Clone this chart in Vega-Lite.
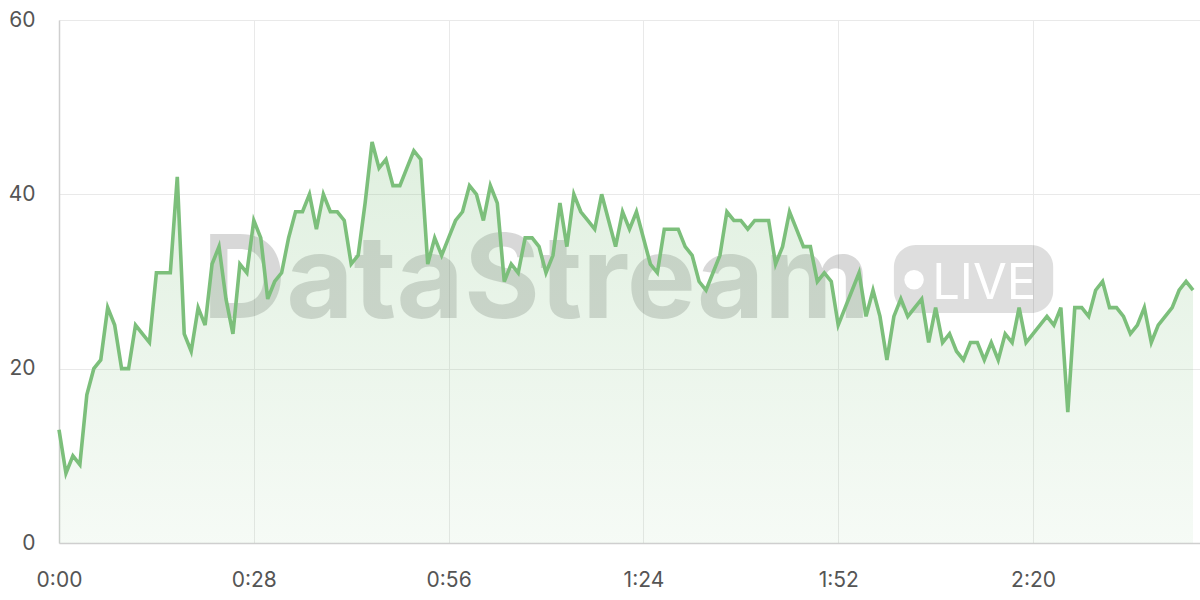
{
  "$schema": "https://vega.github.io/schema/vega-lite/v6.json",
  "width": 1141,
  "height": 523,
  "autosize": {"type": "none"},
  "padding": {"left": 59, "top": 20, "right": 0, "bottom": 57},
  "background": "#ffffff",
  "config": {
    "view": {"stroke": null},
    "font": "Inter",
    "axis": {
      "labelFont": "Inter",
      "labelFontSize": 21,
      "labelColor": "#555555",
      "labelFlush": false,
      "labelOverlap": false,
      "gridColor": "#e9e9e9",
      "gridWidth": 1,
      "domainColor": "#cfcfcf",
      "domainWidth": 1.5,
      "ticks": false,
      "title": null
    }
  },
  "layer": [
    {
      "data": {"values": [{"label": "DataStream"}]},
      "mark": {"type": "text", "font": "Inter", "fontSize": 116, "fontWeight": "bold", "align": "center", "baseline": "alphabetic", "color": "#000000", "opacity": 0.15},
      "encoding": {
        "x": {"datum": 68.6, "type": "quantitative"},
        "y": {"datum": 25.8, "type": "quantitative"},
        "text": {"field": "label"}
      }
    },
    {
      "data": {"values": [{"label": "LIVE"}]},
      "mark": {"type": "rect", "cornerRadius": 22, "color": "#000000", "opacity": 0.13},
      "encoding": {
        "x": {"datum": 120, "type": "quantitative"},
        "x2": {"datum": 142.9},
        "y": {"datum": 34.2, "type": "quantitative"},
        "y2": {"datum": 26.4}
      }
    },
    {
      "data": {"values": [{"label": "LIVE"}]},
      "mark": {"type": "point", "filled": true, "color": "#ffffff", "opacity": 1, "size": 380},
      "encoding": {
        "x": {"datum": 122.9, "type": "quantitative"},
        "y": {"datum": 30.2, "type": "quantitative"}
      }
    },
    {
      "data": {"values": [{"label": "LIVE"}]},
      "mark": {"type": "text", "font": "Inter", "fontSize": 49, "fontWeight": "normal", "align": "left", "baseline": "alphabetic", "color": "#ffffff"},
      "encoding": {
        "x": {"datum": 125.5, "type": "quantitative"},
        "y": {"datum": 28.0, "type": "quantitative"},
        "text": {"field": "label"}
      }
    },
    {
      "data": {"name": "series"},
      "mark": {
        "type": "area",
        "line": false,
        "color": {
          "gradient": "linear",
          "x1": 0, "y1": 0, "x2": 0, "y2": 1,
          "stops": [
            {"offset": 0, "color": "rgba(124,191,123,0.24)"},
            {"offset": 1, "color": "rgba(124,191,123,0.07)"}
          ]
        }
      },
      "encoding": {
        "x": {
          "field": "t",
          "type": "quantitative",
          "scale": {"domain": [0, 164], "nice": false, "zero": false},
          "axis": {
            "values": [0, 28, 56, 84, 112, 140],
            "labelExpr": "floor(datum.value/60) + ':' + (datum.value % 60 < 10 ? '0' : '') + (datum.value % 60)",
            "labelPadding": 26,
            "grid": true,
            "domain": true
          }
        },
        "y": {
          "field": "v",
          "type": "quantitative",
          "scale": {"domain": [0, 60], "nice": false},
          "axis": {
            "values": [0, 20, 40, 60],
            "labelPadding": 24,
            "grid": true,
            "domain": true
          }
        }
      }
    },
    {
      "data": {"name": "series"},
      "mark": {"type": "line", "color": "#7cbf7b", "strokeWidth": 3.6, "strokeJoin": "miter", "strokeMiterLimit": 4},
      "encoding": {
        "x": {"field": "t", "type": "quantitative"},
        "y": {"field": "v", "type": "quantitative"}
      }
    }
  ],
  "datasets": {
    "series": [
      {"t":0,"v":13},{"t":1,"v":8},{"t":2,"v":10},{"t":3,"v":9},{"t":4,"v":17},{"t":5,"v":20},{"t":6,"v":21},{"t":7,"v":27},{"t":8,"v":25},{"t":9,"v":20},
      {"t":10,"v":20},{"t":11,"v":25},{"t":12,"v":24},{"t":13,"v":23},{"t":14,"v":31},{"t":15,"v":31},{"t":16,"v":31},{"t":17,"v":42},{"t":18,"v":24},{"t":19,"v":22},
      {"t":20,"v":27},{"t":21,"v":25},{"t":22,"v":32},{"t":23,"v":34},{"t":24,"v":28},{"t":25,"v":24},{"t":26,"v":32},{"t":27,"v":31},{"t":28,"v":37},{"t":29,"v":35},
      {"t":30,"v":28},{"t":31,"v":30},{"t":32,"v":31},{"t":33,"v":35},{"t":34,"v":38},{"t":35,"v":38},{"t":36,"v":40},{"t":37,"v":36},{"t":38,"v":40},{"t":39,"v":38},
      {"t":40,"v":38},{"t":41,"v":37},{"t":42,"v":32},{"t":43,"v":33},{"t":44,"v":39},{"t":45,"v":46},{"t":46,"v":43},{"t":47,"v":44},{"t":48,"v":41},{"t":49,"v":41},
      {"t":50,"v":43},{"t":51,"v":45},{"t":52,"v":44},{"t":53,"v":32},{"t":54,"v":35},{"t":55,"v":33},{"t":56,"v":35},{"t":57,"v":37},{"t":58,"v":38},{"t":59,"v":41},
      {"t":60,"v":40},{"t":61,"v":37},{"t":62,"v":41},{"t":63,"v":39},{"t":64,"v":30},{"t":65,"v":32},{"t":66,"v":31},{"t":67,"v":35},{"t":68,"v":35},{"t":69,"v":34},
      {"t":70,"v":31},{"t":71,"v":33},{"t":72,"v":39},{"t":73,"v":34},{"t":74,"v":40},{"t":75,"v":38},{"t":76,"v":37},{"t":77,"v":36},{"t":78,"v":40},{"t":79,"v":37},
      {"t":80,"v":34},{"t":81,"v":38},{"t":82,"v":36},{"t":83,"v":38},{"t":84,"v":35},{"t":85,"v":32},{"t":86,"v":31},{"t":87,"v":36},{"t":88,"v":36},{"t":89,"v":36},
      {"t":90,"v":34},{"t":91,"v":33},{"t":92,"v":30},{"t":93,"v":29},{"t":94,"v":31},{"t":95,"v":33},{"t":96,"v":38},{"t":97,"v":37},{"t":98,"v":37},{"t":99,"v":36},
      {"t":100,"v":37},{"t":101,"v":37},{"t":102,"v":37},{"t":103,"v":32},{"t":104,"v":34},{"t":105,"v":38},{"t":106,"v":36},{"t":107,"v":34},{"t":108,"v":34},{"t":109,"v":30},
      {"t":110,"v":31},{"t":111,"v":30},{"t":112,"v":25},{"t":113,"v":27},{"t":114,"v":29},{"t":115,"v":31},{"t":116,"v":26},{"t":117,"v":29},{"t":118,"v":26},{"t":119,"v":21},
      {"t":120,"v":26},{"t":121,"v":28},{"t":122,"v":26},{"t":123,"v":27},{"t":124,"v":28},{"t":125,"v":23},{"t":126,"v":27},{"t":127,"v":23},{"t":128,"v":24},{"t":129,"v":22},
      {"t":130,"v":21},{"t":131,"v":23},{"t":132,"v":23},{"t":133,"v":21},{"t":134,"v":23},{"t":135,"v":21},{"t":136,"v":24},{"t":137,"v":23},{"t":138,"v":27},{"t":139,"v":23},
      {"t":140,"v":24},{"t":141,"v":25},{"t":142,"v":26},{"t":143,"v":25},{"t":144,"v":27},{"t":145,"v":15},{"t":146,"v":27},{"t":147,"v":27},{"t":148,"v":26},{"t":149,"v":29},
      {"t":150,"v":30},{"t":151,"v":27},{"t":152,"v":27},{"t":153,"v":26},{"t":154,"v":24},{"t":155,"v":25},{"t":156,"v":27},{"t":157,"v":23},{"t":158,"v":25},{"t":159,"v":26},
      {"t":160,"v":27},{"t":161,"v":29},{"t":162,"v":30},{"t":163,"v":29}
    ]
  }
}
